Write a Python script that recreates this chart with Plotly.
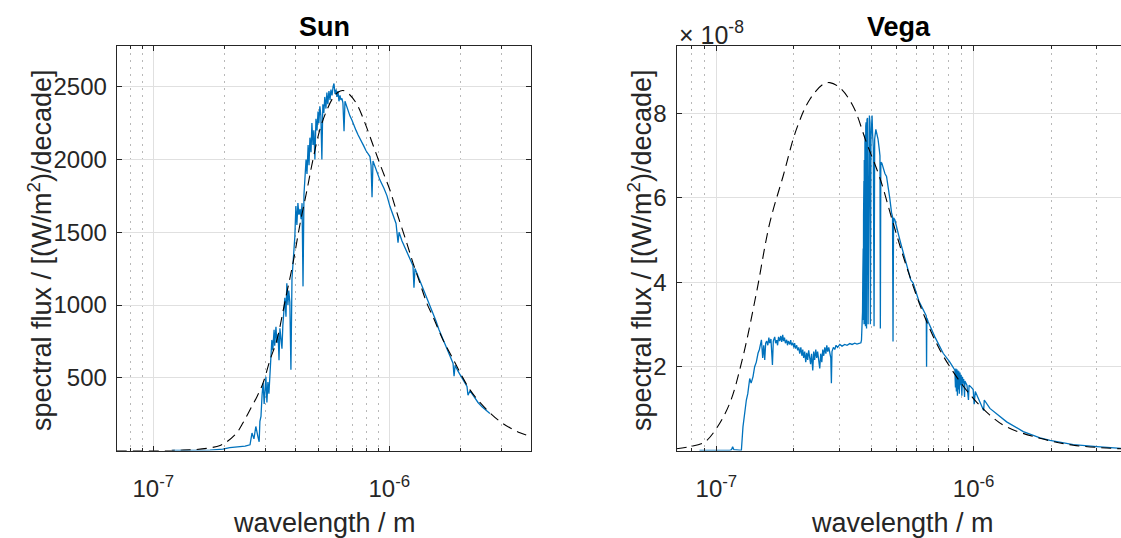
import math
import plotly.graph_objects as go

# ---- Sun: measured spectrum (wavelength in nm, flux per decade in W/m^2) ----
sun_nm = [
    120, 143, 174, 197, 211, 233, 245, 257, 262, 267,
    272, 278, 281, 283, 286, 289, 292, 295, 297, 300,
    303, 306, 309, 312, 315, 318, 321, 325, 327, 331,
    334, 338, 341, 344, 347, 351, 354, 358, 361, 365,
    368, 372, 375, 379, 383, 387, 391, 395, 398, 402,
    406, 410, 414, 419, 423, 427, 431, 435, 440, 444,
    448, 453, 457, 461, 466, 470, 475, 479, 484, 489,
    494, 499, 503, 508, 513, 518, 523, 528, 533, 539,
    544, 549, 555, 561, 566, 572, 578, 583, 589, 595,
    600, 606, 612, 618, 624, 630, 636, 643, 649, 655,
    662, 668, 681, 695, 709, 723, 737, 751, 766, 781,
    797, 813, 828, 837, 845, 853, 870, 895, 912, 950,
    978, 1006, 1037, 1068, 1089, 1100, 1132, 1166, 1200, 1236,
    1260, 1272, 1285, 1323, 1362, 1403, 1444, 1488, 1531, 1577,
    1624, 1673, 1722, 1774, 1826, 1862, 1881, 1900, 1955, 2013,
    2073, 2134, 2155, 2198, 2285, 2376, 2471, 2569, 2668,
]
sun_flux = [
    0, 0, 3, 10, 20, 27, 30, 39, 120, 80,
    165, 90, 60, 200, 234, 380, 465, 320, 420, 507,
    330, 470, 390, 530, 650, 760, 690, 830, 720, 850,
    740, 800, 620, 840, 780, 700, 860, 960, 1050, 920,
    1150, 1000, 1100, 1020, 555, 1180, 1300, 1380, 1470, 1680,
    1550, 1700, 1620, 1660, 1590, 1700, 1128, 1760, 1870, 2000,
    1900, 2100, 1960, 2150, 2050, 2250, 2100, 2200, 2000, 2280,
    2200, 2330, 2250, 2366, 2300, 2000, 2380, 2320, 2430, 2350,
    2460, 2380, 2470, 2410, 2480, 2440, 2500, 2522, 2450, 2480,
    2430, 2470, 2400, 2440, 2410, 2420, 2390, 2194, 2400, 2380,
    2366, 2340, 2300, 2270, 2230, 2200, 2170, 2140, 2110, 2090,
    2060, 2040, 2020, 1960, 1740, 1990, 1950, 1900, 1860, 1800,
    1750, 1678, 1620, 1560, 1428, 1500, 1440, 1390, 1340, 1300,
    1270, 1118, 1250, 1200, 1150, 1100, 1050, 1000, 950, 890,
    830, 780, 730, 680, 640, 600, 510, 585, 545, 510,
    475, 440, 380, 410, 370, 330, 300, 275, 255,
]

# ---- Sun: black-body reference curve ----
sun_bb_nm = [
    70, 118, 130, 150, 174, 192, 205, 226, 240, 257,
    275, 292, 312, 334, 361, 391, 419, 448, 475, 508,
    544, 578, 606, 636, 675, 730, 789, 853, 922, 1006,
    1089, 1189, 1260, 1349, 1444, 1531, 1689, 1862, 2033, 2198,
    2421, 2668, 2942, 3243, 3577, 4000,
]
sun_bb_flux = [
    0, 0.5, 2, 6, 18, 35, 60, 122, 190, 280,
    370, 465, 620, 760, 1020, 1290, 1560, 1790, 2000, 2205,
    2340, 2425, 2462, 2474, 2450, 2378, 2250, 2100, 1950, 1790,
    1610, 1420, 1290, 1150, 1010, 920, 760, 630, 510, 417,
    330, 259, 200, 156, 122, 94,
]

# ---- Vega: measured spectrum (flux in units of 1e-8 W/m^2 per decade) ----
vega_nm = [
    86, 112.7, 114.5, 115.7, 117, 125.1, 126.9, 128.5, 130.8, 132.5,
    134.8, 136.5, 138.8, 140.9, 143, 145.2, 147, 149.7, 151.4, 152.8,
    154.2, 155.5, 156.9, 158.5, 160, 161.2, 163, 165.2, 166.5, 168.6,
    170, 171.7, 173, 174.5, 176.3, 178, 179.5, 181.1, 182.5, 184,
    185.5, 187.7, 189, 190.5, 192.9, 194.5, 196, 198.1, 200, 201.5,
    203, 205.3, 207, 209, 210.9, 213, 215, 216.7, 218.5, 220.5,
    222.6, 224.5, 226.5, 228.5, 230.7, 232.5, 234.5, 237, 239, 241,
    243.5, 245.5, 247.5, 250, 252.3, 254.5, 257, 259.2, 261.5, 264,
    266.5, 268.7, 271, 273.5, 276, 278.5, 280, 281.5, 285, 288.6,
    292, 296, 301.9, 308, 315.7, 322, 330.2, 337, 345.3, 352,
    361.1, 364.6, 366.5, 368.5, 370, 371, 371.5, 372.2, 372.8, 373.4,
    374, 374.6, 375.1, 375.8, 376.5, 377.2, 378, 379, 379.8, 380.8,
    382, 383.5, 385, 387, 388.9, 391, 393.5, 395.5, 397, 399,
    401, 403, 405, 407.5, 410.2, 412.5, 416.8, 420.5, 425, 430,
    432.5, 434, 435.8, 439.8, 446, 452, 458.7, 465, 472, 479.7,
    484, 486.1, 488.5, 494.1, 503, 512, 522, 532.2, 545, 558,
    570, 582.1, 596, 612.6, 630, 646.5, 654.5, 656.3, 658, 665.8,
    706.8, 761.5, 808.5, 845.5, 850, 853, 857, 861, 865, 869,
    872, 876, 880, 885, 890, 894, 900, 905, 910, 915,
    922, 925, 935, 942, 955, 960, 980, 996, 1005, 1015,
    1094, 1100, 1157, 1266, 1344, 1560, 1811, 1981, 2167, 2441,
    3011, 3391, 3743,
]
vega_flux_e8 = [
    0, 0, 0.02, 0.09, 0.02, 0, 0.56, 0.85, 1.2, 1.35,
    1.71, 1.6, 1.75, 1.99, 2.1, 2.31, 2.4, 2.63, 2.2, 2.5,
    2.15, 2.55, 2.6, 2.5, 2.68, 2.55, 2.65, 2.03, 2.6, 2.7,
    2.55, 2.62, 2.5, 2.7, 2.6, 2.72, 2.58, 2.75, 2.6, 2.68,
    2.55, 2.63, 2.5, 2.6, 2.52, 2.62, 2.5, 2.56, 2.45, 2.55,
    2.42, 2.5, 2.38, 2.45, 2.3, 2.45, 2.25, 2.4, 2.2, 2.35,
    2.1, 2.32, 2.15, 2.38, 2.2, 2.05, 2.3, 1.9, 2.35, 2.15,
    2.4, 2.2, 2.35, 2.05, 1.95, 2.3, 2.1, 2.4, 2.25, 2.45,
    2.3, 2.5, 2.35, 2.45, 2.3, 2.2, 1.6, 2.35, 2.45, 2.4,
    2.5, 2.45, 2.52, 2.48, 2.52, 2.5, 2.54, 2.52, 2.55, 2.53,
    2.55, 2.56, 2.62, 2.9, 3.3, 4.2, 3.2, 4.8, 3.1, 5.6,
    3.0, 6.4, 3.0, 6.9, 3.1, 3.0, 7.3, 7.5, 2.95, 7.7,
    7.8, 2.9, 7.86, 7.9, 3.0, 7.7, 7.96, 7.8, 3.0, 7.4,
    7.7, 7.96, 7.5, 7.2, 2.95, 7.4, 7.63, 7.55, 7.4, 7.15,
    7.0, 2.9, 6.85, 6.83, 6.7, 6.58, 6.51, 6.3, 6.0, 5.65,
    5.55, 2.59, 5.53, 5.48, 5.32, 5.1, 4.9, 4.7, 4.45, 4.2,
    4.05, 3.98, 3.75, 3.55, 3.4, 3.26, 3.2, 1.99, 3.15, 3.06,
    2.7, 2.31, 2.1, 1.91, 1.5, 1.95, 1.4, 1.93, 1.3, 1.9,
    1.45, 1.88, 1.35, 1.85, 1.55, 1.8, 1.3, 1.75, 1.6, 1.7,
    1.27, 1.65, 1.6, 1.55, 1.2, 1.55, 1.5, 1.45, 1.1, 1.4,
    0.95, 1.2, 1.0, 0.8, 0.68, 0.45, 0.3, 0.24, 0.19, 0.14,
    0.09, 0.065, 0.05,
]

# ---- Vega: black-body reference curve (1e-8 W/m^2 per decade) ----
vega_bb_nm = [
    70, 78.7, 90, 100, 112.7, 126.9, 143.1, 161.2, 181.6, 204.7,
    230.7, 259.9, 276, 301.9, 340.1, 383.5, 431.9, 486.7, 548.5, 636.9,
    739.5, 858.6, 996.4, 1157, 1344, 1811, 2441, 3743,
]
vega_bb_flux_e8 = [
    0.04, 0.09, 0.2, 0.52, 1.12, 2.23, 3.74, 5.4, 6.51, 7.63,
    8.34, 8.70, 8.74, 8.62, 8.18, 7.31, 6.48, 5.40, 4.37, 3.26,
    2.39, 1.75, 1.24, 0.84, 0.56, 0.29, 0.126, 0.04,
]

assert len(sun_nm) == len(sun_flux)
assert len(sun_bb_nm) == len(sun_bb_flux)
assert len(vega_nm) == len(vega_flux_e8)
assert len(vega_bb_nm) == len(vega_bb_flux_e8)

NM = 1e-9
E8 = 1e-8

x_major = [1e-7, 1e-6]
x_major_text = ["10<sup>-7</sup>", "10<sup>-6</sup>"]
x_minor = [7e-8, 8e-8, 9e-8] + [k * 1e-7 for k in range(2, 10)] + [2e-6, 3e-6, 4e-6]

sun_yticks = [500, 1000, 1500, 2000, 2500]
vega_yticks = [2, 4, 6, 8]

BLUE = "#0072BD"
INK = "#262626"
FONT = "Liberation Sans, Arial, Helvetica, sans-serif"

fig = go.Figure()

fig.add_trace(go.Scatter(
    x=[w * NM for w in sun_nm], y=sun_flux, mode="lines",
    line=dict(color=BLUE, width=1.3), xaxis="x", yaxis="y", hoverinfo="skip"))
fig.add_trace(go.Scatter(
    x=[w * NM for w in sun_bb_nm], y=sun_bb_flux, mode="lines",
    line=dict(color="black", width=1.1, dash="10px,6px", shape="spline"),
    xaxis="x", yaxis="y", hoverinfo="skip"))
fig.add_trace(go.Scatter(
    x=[w * NM for w in vega_nm], y=[v * E8 for v in vega_flux_e8], mode="lines",
    line=dict(color=BLUE, width=1.3), xaxis="x2", yaxis="y2", hoverinfo="skip"))
fig.add_trace(go.Scatter(
    x=[w * NM for w in vega_bb_nm], y=[v * E8 for v in vega_bb_flux_e8], mode="lines",
    line=dict(color="black", width=1.1, dash="10px,6px", shape="spline"),
    xaxis="x2", yaxis="y2", hoverinfo="skip"))

W, H = 1121, 538


def px_x(p):
    return p / W


def px_y(p):
    return (H - p) / H


axis_style = dict(
    showline=True, linecolor=INK, linewidth=1,
    ticks="inside", ticklen=5, tickcolor=INK, tickwidth=1,
    showgrid=True, gridcolor="#e0e0e0", gridwidth=1, zeroline=False,
    tickfont=dict(family=FONT, size=24, color=INK),
)
minor_style = dict(
    tickvals=x_minor, ticks="inside", ticklen=3, tickcolor=INK,
    showgrid=True, gridcolor="#b8b8b8", griddash="2px,5px", gridwidth=1,
)

y_dom = [px_y(450.5), px_y(46)]

fig.update_layout(
    width=W, height=H,
    margin=dict(l=0, r=0, t=0, b=0),
    paper_bgcolor="white", plot_bgcolor="white",
    showlegend=False,
    font=dict(family=FONT, color=INK),
    xaxis=dict(
        **axis_style, type="log", anchor="y", mirror="ticks",
        domain=[px_x(116.7), px_x(531.4)],
        range=[math.log10(7e-8), math.log10(4e-6)],
        tickvals=x_major, ticktext=x_major_text, ticklabelstandoff=17,
        minor=minor_style,
    ),
    yaxis=dict(
        **axis_style, anchor="x", mirror="ticks",
        domain=y_dom, range=[0, 2780],
        tickvals=sun_yticks, ticklabelstandoff=4,
    ),
    xaxis2=dict(
        **axis_style, type="log", anchor="y2", mirror="ticks",
        domain=[px_x(676.5), 1.0],
        range=[math.log10(7e-8), math.log10(3.74e-6)],
        tickvals=x_major, ticktext=x_major_text, ticklabelstandoff=17,
        minor=minor_style,
    ),
    yaxis2=dict(
        **axis_style, anchor="x2", mirror=False,
        domain=y_dom, range=[0, 9.61e-8],
        tickvals=[v * E8 for v in vega_yticks],
        ticktext=[str(v) for v in vega_yticks], ticklabelstandoff=4,
    ),
)

label_font = dict(family=FONT, size=27, color=INK)
title_font = dict(family=FONT, size=27, color="black")
annotations = [
    dict(text="<b>Sun</b>", x=px_x(324), y=px_y(27), font=title_font),
    dict(text="<b>Vega</b>", x=px_x(899), y=px_y(27), font=title_font),
    dict(text="wavelength / m", x=px_x(324), y=px_y(523), font=label_font),
    dict(text="wavelength / m", x=px_x(902), y=px_y(523), font=label_font),
    dict(text="spectral flux / [(W/m<sup>2</sup>)/decade]", x=px_x(40), y=px_y(250),
         textangle=-90, font=label_font),
    dict(text="spectral flux / [(W/m<sup>2</sup>)/decade]", x=px_x(640), y=px_y(250),
         textangle=-90, font=label_font),
    dict(text="\u00d7 10<sup>-8</sup>", x=px_x(677), y=px_y(33), xanchor="left",
         font=dict(family=FONT, size=25, color=INK)),
]
for a in annotations:
    a.setdefault("xanchor", "center")
    a.update(xref="paper", yref="paper", yanchor="middle", showarrow=False)
fig.update_layout(annotations=annotations)

fig.write_html("out.html")
